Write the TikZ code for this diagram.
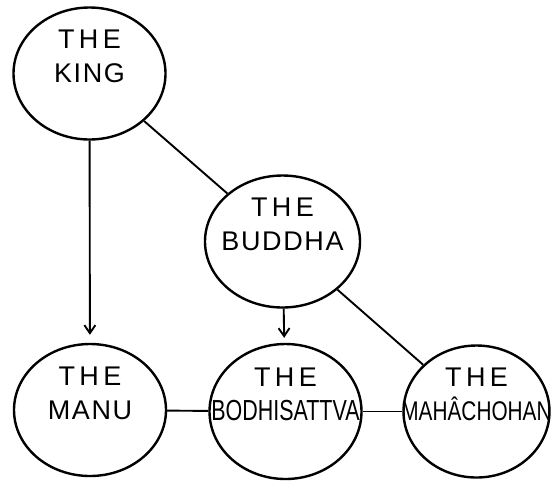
\documentclass[tikz,border=0pt]{standalone}
\usepackage{fontspec}
\setmainfont{Liberation Sans}
\newfontfamily\widefont[LetterSpace=16]{Liberation Sans}
\newfontfamily\wordfont[LetterSpace=6]{Liberation Sans}
\usetikzlibrary{shapes.geometric,arrows.meta,positioning}

\tikzset{
  disc/.style={draw, ellipse, line width=2.4pt, inner sep=0pt,
    minimum width=152pt, minimum height=132pt},
  link/.style={line width=1.9pt},
  down/.style={link, -{Straight Barb[length=8pt,width=11pt]}},
  words/.style={align=center, yshift=17pt, font=\fontsize{27}{34}\selectfont}
}

\begin{document}
\begin{tikzpicture}[x=1pt, y=-1pt]
  \useasboundingbox (0,0) rectangle (553,483);

  % the five offices
  \node[disc, label={[words]center:{\widefont THE}\\{\wordfont KING}}] (king) at (89.5,73.5) {};
  \node[disc, minimum width=155pt, label={[words]center:{\widefont THE}\\{\wordfont BUDDHA}}] (buddha) at (282.5,241.5) {};
  \node[disc, label={[words]center:{\widefont THE}\\{\wordfont MANU}}] (manu) at (90,410) {};
  \node[disc, minimum height=135pt, label={[words]center:{\widefont THE}\\{\fontsize{29}{34}\selectfont\scalebox{0.74}[1]{BODHISATTVA}}}] (bodhi) at (285.5,411.5) {};
  \node[disc, minimum width=146pt, label={[words]center:{\widefont THE}\\{\scalebox{0.77}[1]{MAHÂCHOHAN}}}] (maha) at (476.5,411.5) {};

  % lines of descent
  \draw[down, shorten >=8pt] (king) -- (manu);
  \draw[link] (king) -- (buddha);
  \draw[down, shorten >=5pt] (buddha) -- (bodhi);
  \draw[link] (buddha) -- (maha);
  \draw[link] (manu) -- (bodhi);
  \draw[link] (bodhi) -- (maha);
\end{tikzpicture}
\end{document}
